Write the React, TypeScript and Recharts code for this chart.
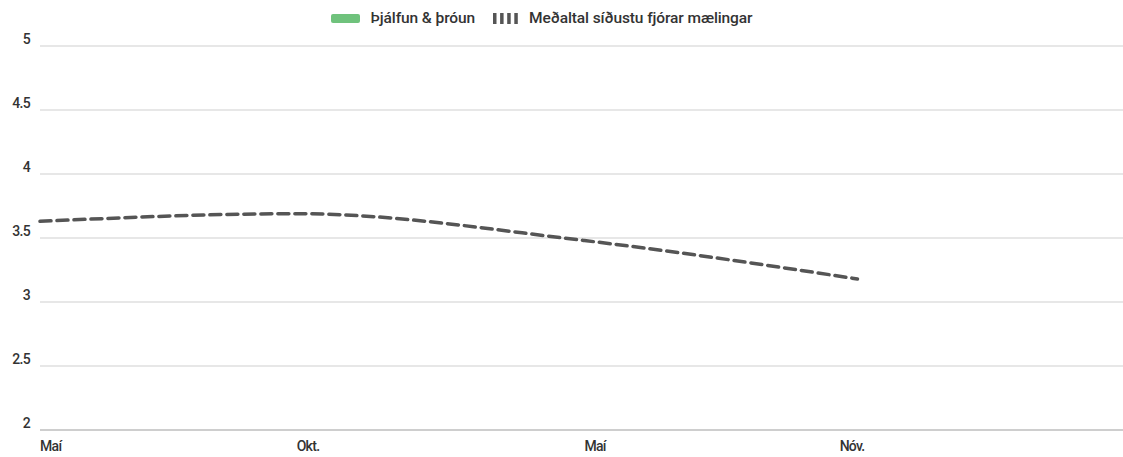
import { ComposedChart, Line, Bar, XAxis, YAxis, CartesianGrid, Legend } from 'recharts';

// days counted from 1 May 2020
const days = [0, 173, 367, 551];
const average = [3.63, 3.69, 3.48, 3.18];
const training: (number | null)[] = [null, null, null, null];

const tickDays = [0, 173, 367, 539];
const tickLabels = ['Maí', 'Okt.', 'Maí', 'Nóv.'];
const yTicks = [2, 2.5, 3, 3.5, 4, 4.5, 5];

const data = days.map((d, i) => ({ day: d, average: average[i], training: training[i] }));

const FONT = 'Roboto, sans-serif';

const XTick = (props: any) => {
  const { x, y, payload } = props;
  const idx = tickDays.indexOf(payload.value);
  return (
    <text x={x} y={y + 13} textAnchor="start" fontFamily={FONT} fontSize={14} fontWeight={500} fill="#333" letterSpacing={-0.7}>
      {tickLabels[idx]}
    </text>
  );
};

const YTick = (props: any) => {
  const { y, payload } = props;
  return (
    <text x={30} y={y - 2} textAnchor="end" fontFamily={FONT} fontSize={14} fontWeight={500} fill="#333" letterSpacing={-0.7}>
      {payload.value}
    </text>
  );
};

const LegendContent = () => (
  <div
    style={{
      display: 'flex',
      justifyContent: 'center',
      alignItems: 'center',
      fontFamily: FONT,
      fontSize: 15.5,
      fontWeight: 500,
      color: '#333',
      letterSpacing: -0.1,
      height: 18,
    }}
  >
    <span style={{ display: 'inline-block', width: 29, height: 9, background: '#6fc27c', borderRadius: 2, marginRight: 11 }} />
    <span style={{ marginRight: 18 }}>Þjálfun &amp; þróun</span>
    <svg width={25} height={11} style={{ marginRight: 11 }}>
      <line x1={0} y1={5.5} x2={25} y2={5.5} stroke="#555" strokeWidth={11} strokeDasharray="3.5 3.6" />
    </svg>
    <span>Meðaltal síðustu fjórar mælingar</span>
  </div>
);

export default function App() {
  return (
    <div style={{ position: 'absolute', left: 0, top: 0, width: 1123, height: 457, background: '#fff' }}>
      <ComposedChart width={1123} height={457} data={data} margin={{ top: 28, right: 0, bottom: 0, left: 0 }}>
        <CartesianGrid horizontal vertical={false} stroke="#cfcfcf" />
        <XAxis
          dataKey="day"
          type="number"
          domain={[0, 730]}
          ticks={tickDays}
          tick={<XTick />}
          tickLine={false}
          axisLine={{ stroke: '#b5b5b5' }}
          height={27}
          interval={0}
        />
        <YAxis
          domain={[2, 5]}
          ticks={yTicks}
          tick={<YTick />}
          tickLine={false}
          axisLine={false}
          width={40}
          interval={0}
        />
        <Legend
          verticalAlign="top"
          content={<LegendContent />}
          wrapperStyle={{ position: 'absolute', top: 9, left: 0, width: 1083, height: 18 }}
        />
        <Bar dataKey="training" fill="#6fc27c" isAnimationActive={false} />
        <Line
          type="monotone"
          dataKey="average"
          stroke="#555"
          strokeWidth={3.5}
          strokeDasharray="11 6"
          strokeLinecap="round"
          dot={false}
          activeDot={false}
          isAnimationActive={false}
        />
      </ComposedChart>
    </div>
  );
}
